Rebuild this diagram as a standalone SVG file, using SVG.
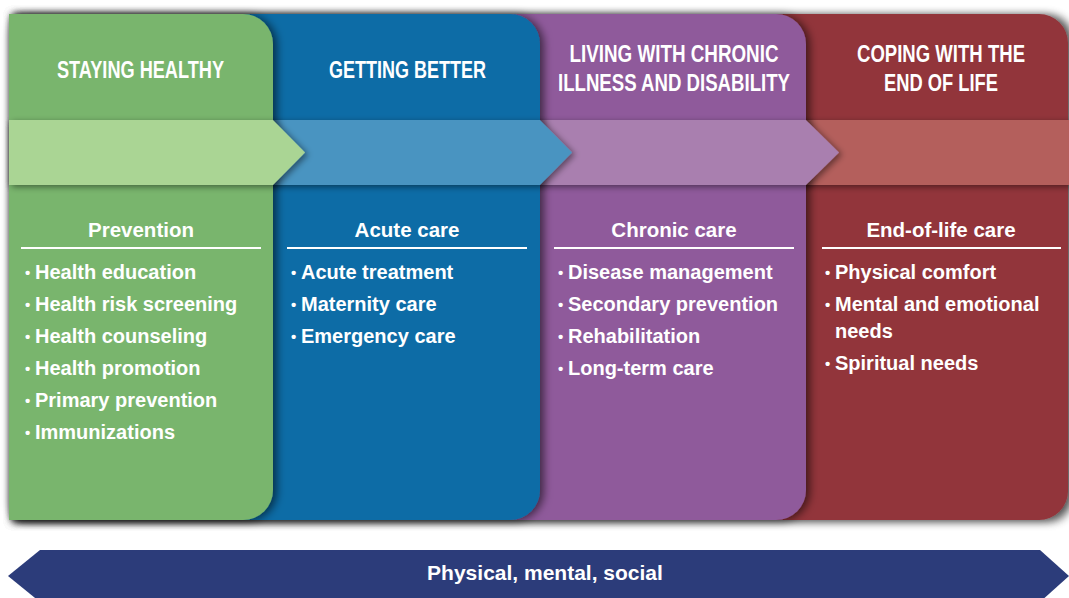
<svg xmlns="http://www.w3.org/2000/svg" width="1069" height="598" viewBox="0 0 1069 598">
<defs>
<filter id="panelShadow" x="-10%" y="-10%" width="130%" height="130%">
<feDropShadow dx="4" dy="1" stdDeviation="4" flood-color="#000" flood-opacity="0.55"/>
</filter>
<filter id="bandShadow" x="-10%" y="-30%" width="130%" height="170%">
<feDropShadow dx="3" dy="2" stdDeviation="3" flood-color="#000" flood-opacity="0.45"/>
</filter>
<filter id="outerShadow" x="-5%" y="-10%" width="110%" height="120%">
<feGaussianBlur stdDeviation="4"/>
</filter>
</defs>
<style>
.title{font-family:"Liberation Sans",Arial,sans-serif;font-weight:bold;font-size:23.5px;fill:#fff;text-anchor:middle;}
.sub{font-family:"Liberation Sans",Arial,sans-serif;font-weight:bold;font-size:20.5px;fill:#fff;text-anchor:middle;}
.item{font-family:"Liberation Sans",Arial,sans-serif;font-weight:bold;font-size:20px;fill:#fff;}
.dot{font-size:15px;}
.rule{fill:#fff;}
.panel{filter:url(#panelShadow);}
.band{filter:url(#bandShadow);}
.banner{font-family:"Liberation Sans",Arial,sans-serif;font-weight:bold;font-size:21px;fill:#fff;text-anchor:middle;}
</style>
<rect width="1069" height="598" fill="#fff"/>
<rect x="9" y="15" width="1062" height="507" rx="20" fill="#000" opacity="0.35" filter="url(#outerShadow)"/>

<g id="end-of-life">
<path class="panel" d="M9,14 H1039 A29,29 0 0 1 1068,43 V491 A29,29 0 0 1 1039,520 H9 Z" fill="#92353B"/>
<path class="band" d="M9,120 H1069 V185 H9 Z" fill="#B45E5C"/>
<text class="title" x="941" y="62" textLength="168" lengthAdjust="spacingAndGlyphs">COPING WITH THE</text>
<text class="title" x="941" y="91" textLength="114" lengthAdjust="spacingAndGlyphs">END OF LIFE</text>
<text class="sub" x="941" y="237">End-of-life care</text>
<rect class="rule" x="822" y="247" width="239" height="2"/>
<text class="item" y="279"><tspan class="dot" x="825" dy="-1.5">•</tspan><tspan x="835" dy="1.5">Physical comfort</tspan></text>
<text class="item" y="311"><tspan class="dot" x="825" dy="-1.5">•</tspan><tspan x="835" dy="1.5">Mental and emotional</tspan></text>
<text class="item" x="835" y="338">needs</text>
<text class="item" y="370"><tspan class="dot" x="825" dy="-1.5">•</tspan><tspan x="835" dy="1.5">Spiritual needs</tspan></text>
</g>

<g id="chronic-illness">
<path class="panel" d="M9,14 H776 A30,30 0 0 1 806,44 V490 A30,30 0 0 1 776,520 H9 Z" fill="#8F5A9B"/>
<path class="band" d="M9,120 H806 L839,152.5 L806,185 H9 Z" fill="#A97FAF"/>
<text class="title" x="674" y="62" textLength="209" lengthAdjust="spacingAndGlyphs">LIVING WITH CHRONIC</text>
<text class="title" x="674" y="91" textLength="232" lengthAdjust="spacingAndGlyphs">ILLNESS AND DISABILITY</text>
<text class="sub" x="674" y="237">Chronic care</text>
<rect class="rule" x="554" y="247" width="240" height="2"/>
<text class="item" y="279"><tspan class="dot" x="558" dy="-1.5">•</tspan><tspan x="568" dy="1.5">Disease management</tspan></text>
<text class="item" y="311"><tspan class="dot" x="558" dy="-1.5">•</tspan><tspan x="568" dy="1.5">Secondary prevention</tspan></text>
<text class="item" y="343"><tspan class="dot" x="558" dy="-1.5">•</tspan><tspan x="568" dy="1.5">Rehabilitation</tspan></text>
<text class="item" y="375"><tspan class="dot" x="558" dy="-1.5">•</tspan><tspan x="568" dy="1.5">Long-term care</tspan></text>
</g>

<g id="getting-better">
<path class="panel" d="M9,14 H510 A30,30 0 0 1 540,44 V490 A30,30 0 0 1 510,520 H9 Z" fill="#0B6CA6"/>
<path class="band" d="M9,120 H540 L572,152.5 L540,185 H9 Z" fill="#4A94C1"/>
<text class="title" x="407.5" y="78" textLength="157" lengthAdjust="spacingAndGlyphs">GETTING BETTER</text>
<text class="sub" x="407" y="237">Acute care</text>
<rect class="rule" x="287" y="247" width="240" height="2"/>
<text class="item" y="279"><tspan class="dot" x="291" dy="-1.5">•</tspan><tspan x="301" dy="1.5">Acute treatment</tspan></text>
<text class="item" y="311"><tspan class="dot" x="291" dy="-1.5">•</tspan><tspan x="301" dy="1.5">Maternity care</tspan></text>
<text class="item" y="343"><tspan class="dot" x="291" dy="-1.5">•</tspan><tspan x="301" dy="1.5">Emergency care</tspan></text>
</g>

<g id="staying-healthy">
<path class="panel" d="M9,14 H243 A30,30 0 0 1 273,44 V490 A30,30 0 0 1 243,520 H9 Z" fill="#79B56D"/>
<path class="band" d="M9,120 H273 L305,152.5 L273,185 H9 Z" fill="#AAD594"/>
<text class="title" x="140.5" y="78" textLength="167" lengthAdjust="spacingAndGlyphs">STAYING HEALTHY</text>
<text class="sub" x="141" y="237">Prevention</text>
<rect class="rule" x="21" y="247" width="240" height="2"/>
<text class="item" y="279"><tspan class="dot" x="25" dy="-1.5">•</tspan><tspan x="35" dy="1.5">Health education</tspan></text>
<text class="item" y="311"><tspan class="dot" x="25" dy="-1.5">•</tspan><tspan x="35" dy="1.5">Health risk screening</tspan></text>
<text class="item" y="343"><tspan class="dot" x="25" dy="-1.5">•</tspan><tspan x="35" dy="1.5">Health counseling</tspan></text>
<text class="item" y="375"><tspan class="dot" x="25" dy="-1.5">•</tspan><tspan x="35" dy="1.5">Health promotion</tspan></text>
<text class="item" y="407"><tspan class="dot" x="25" dy="-1.5">•</tspan><tspan x="35" dy="1.5">Primary prevention</tspan></text>
<text class="item" y="439"><tspan class="dot" x="25" dy="-1.5">•</tspan><tspan x="35" dy="1.5">Immunizations</tspan></text>
</g>

<g id="connectors">
<g id="scope">
<path d="M8,576 L40,550 H1040 L1069,576 L1040,602 H40 Z" fill="#2C3C7A"/>
<text class="banner" x="545" y="580">Physical, mental, social</text>
</g>
</g>
</svg>
